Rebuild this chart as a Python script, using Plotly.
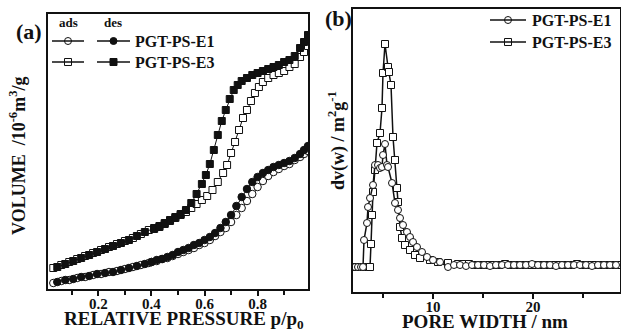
import plotly.graph_objects as go

# ---------------- Panel (a): N2 isotherms (arbitrary volume units) ----------------
P_ADS_LOW = [0.03, 0.06, 0.09, 0.12, 0.15, 0.18, 0.21, 0.24, 0.27, 0.30, 0.33, 0.36, 0.39]
P_DES_LOW = [0.045, 0.075, 0.105, 0.135, 0.165, 0.195, 0.225, 0.255, 0.285, 0.315, 0.345, 0.375]

# PGT-PS-E1
E1_ADS_P = P_ADS_LOW + [0.40, 0.42, 0.44, 0.46, 0.48, 0.50, 0.52, 0.54, 0.56, 0.58, 0.60, 0.62, 0.64,
                        0.66, 0.68, 0.70, 0.72, 0.74, 0.76, 0.78, 0.80, 0.82, 0.84, 0.86, 0.88, 0.90,
                        0.92, 0.94, 0.96, 0.975, 0.99]
E1_ADS_V = [6, 8, 9, 11, 12, 14, 15, 17, 18, 20, 22, 24, 26,
            27, 28, 30, 31, 33, 35, 37, 39, 41, 44, 46, 49, 53, 57, 61, 67, 74, 81, 88, 95, 102,
            108, 113, 117, 120, 123, 125, 129, 132, 135, 138]
E1_DES_P = P_DES_LOW + [0.40, 0.42, 0.44, 0.46, 0.48, 0.50, 0.52, 0.54, 0.56, 0.58, 0.60, 0.62, 0.64,
                        0.66, 0.68, 0.70, 0.72, 0.74, 0.76, 0.78, 0.80, 0.82, 0.84, 0.86, 0.88, 0.90,
                        0.92, 0.94, 0.96, 0.975, 0.99]
E1_DES_V = [7, 9, 10, 12, 13, 15, 16, 17, 19, 21, 23, 25,
            27, 29, 30, 32, 34, 37, 39, 41, 44, 46, 49, 52, 56, 61, 67, 74, 83, 92, 100, 107,
            112, 116, 119, 122, 124, 126, 128, 131, 135, 139, 143]

# PGT-PS-E3
E3_ADS_P = P_ADS_LOW + [0.41, 0.43, 0.45, 0.47, 0.49, 0.51, 0.53, 0.55, 0.57, 0.59, 0.61, 0.63, 0.65,
                        0.67, 0.685, 0.70, 0.715, 0.73, 0.745, 0.76, 0.775, 0.79, 0.805, 0.82, 0.84,
                        0.86, 0.88, 0.90, 0.92, 0.94, 0.96, 0.975, 0.99]
E3_ADS_V = [21, 24, 27, 30, 33, 36, 39, 42, 45, 48, 51, 55, 59,
            60, 62, 65, 68, 71, 74, 77, 81, 85, 89, 93, 99, 107, 116, 124, 136, 147, 159, 171,
            179, 188, 196, 202, 207, 211, 214, 216, 218, 222, 225, 232, 237, 243]
E3_DES_P = P_DES_LOW + [0.41, 0.43, 0.45, 0.47, 0.49, 0.51, 0.53, 0.55, 0.57, 0.59, 0.605, 0.62,
                        0.635, 0.65, 0.665, 0.68, 0.695, 0.71, 0.725, 0.74, 0.76, 0.78, 0.80, 0.82,
                        0.84, 0.86, 0.88, 0.90, 0.92, 0.94, 0.96, 0.975, 0.99]
E3_DES_V = [22, 25, 28, 31, 34, 37, 40, 43, 46, 49, 53, 57,
            61, 63, 66, 69, 72, 75, 79, 86, 95, 105, 114, 125, 139, 154, 168, 179, 190, 199, 204,
            208, 211, 214, 216, 218, 220, 222, 224, 227, 229, 233, 241, 247, 254]

# ---------------- Panel (b): pore size distribution ----------------
E1_W = [2.2, 2.5, 2.8, 3.0, 3.1, 3.4, 3.5, 3.7, 4.0, 4.2, 4.5, 4.7, 4.9, 5.0, 5.2, 5.4, 5.5, 5.9,
        6.2, 6.5, 6.7, 7.0, 7.4, 7.7, 8.0, 8.4, 8.9, 9.4, 10.0, 10.7, 11.5,
        12.1, 12.7, 13.3, 13.9, 14.5, 15.1, 15.7, 16.3, 16.9, 17.5, 18.1, 18.7, 19.3, 19.9,
        20.5, 21.1, 21.7, 22.3, 22.9, 23.5, 24.1, 24.7, 25.3, 25.9, 26.5, 27.1, 27.7, 28.3]
E1_DV = [25, 25, 25, 25, 52, 69, 85, 94, 107, 127, 127, 124, 125, 137, 148, 127, 125, 109,
         89, 82, 74, 67, 60, 55, 50, 45, 40, 35, 32, 30, 25,
         27, 27, 26, 27, 27, 27, 26, 27, 27, 27, 27, 27, 27, 28,
         27, 27, 27, 26, 27, 27, 27, 27, 27, 26, 27, 27, 27, 27]

E3_W = [2.2, 2.5, 2.9, 3.3, 3.7, 3.8, 3.9, 4.0, 4.2, 4.4, 4.7, 4.9, 5.0, 5.2, 5.5, 5.6, 5.8,
        6.0, 6.2, 6.4, 6.5, 6.7, 6.9, 7.2, 7.7, 8.2, 8.7, 9.7, 10.5, 11.5, 12.5,
        13.0, 13.6, 14.2, 14.8, 15.4, 16.0, 16.6, 17.2, 17.8, 18.4, 19.0, 19.6, 20.2, 20.8,
        21.4, 22.0, 22.6, 23.2, 23.8, 24.4, 25.0, 25.6, 26.2, 26.8, 27.4, 28.0, 28.6]
E3_DV = [25, 25, 25, 25, 25, 48, 77, 100, 122, 149, 159, 184, 219, 248, 225, 220, 207,
         155, 132, 104, 90, 65, 54, 47, 42, 37, 34, 32, 30, 29, 28,
         28, 28, 27, 27, 27, 27, 27, 28, 27, 27, 27, 27, 27, 27,
         27, 27, 27, 27, 27, 28, 27, 27, 27, 27, 27, 27, 27]

FONT = "Liberation Serif"
BLACK = "#111111"

fig = go.Figure()

def iso(x, y, symbol, filled, size):
    fig.add_trace(go.Scatter(
        x=x, y=y, mode="lines+markers", xaxis="x", yaxis="y", showlegend=False,
        line=dict(color=BLACK, width=1),
        marker=dict(symbol=symbol, size=size, color=BLACK if filled else "white",
                    line=dict(color=BLACK, width=1))))

iso(E1_ADS_P, E1_ADS_V, "circle", False, 7.5)
iso(E1_DES_P, E1_DES_V, "circle", True, 7.5)
iso(E3_ADS_P, E3_ADS_V, "square", False, 7)
iso(E3_DES_P, E3_DES_V, "square", True, 7)

for w, dv, sym in [(E3_W, E3_DV, "square"), (E1_W, E1_DV, "circle")]:
    fig.add_trace(go.Scatter(
        x=w, y=dv, mode="lines+markers", xaxis="x2", yaxis="y2", showlegend=False,
        line=dict(color=BLACK, width=1.5),
        marker=dict(symbol=sym, size=7, color="white", line=dict(color=BLACK, width=1))))

# ---------------- legend glyphs (overlay axis in pixel units) ----------------
shapes = []
leg_rows = [  # (x0, x1, y, symbol, filled)
    (52, 84, 41, "circle", False), (97, 130, 41, "circle", True),
    (52, 84, 62, "square", False), (97, 130, 62, "square", True),
    (490, 526, 20, "circle", False), (490, 526, 42, "square", False),
]
for x0, x1, yy, sym, filled in leg_rows:
    shapes.append(dict(type="line", xref="x3", yref="y3", x0=x0, x1=x1, y0=yy, y1=yy,
                       line=dict(color=BLACK, width=1.5)))
    fig.add_trace(go.Scatter(
        x=[(x0 + x1) / 2], y=[yy], mode="markers", xaxis="x3", yaxis="y3", showlegend=False,
        marker=dict(symbol=sym, size=7, color=BLACK if filled else "white",
                    line=dict(color=BLACK, width=1))))

def txt(x, y, s, size, anchor="center", angle=0):
    return dict(x=x, y=y, xref="x3", yref="y3", text="<b>" + s + "</b>", showarrow=False,
                xanchor=anchor, yanchor="middle", textangle=angle,
                font=dict(family=FONT, size=size, color=BLACK))

annotations = [
    txt(29, 31, "(a)", 22),
    txt(338, 18, "(b)", 22),
    txt(68, 22, "ads", 13),
    txt(113, 22, "des", 13),
    txt(133, 41, "PGT-PS-E1", 16, "left"),
    txt(133, 62, "PGT-PS-E3", 16, "left"),
    txt(530, 20, "PGT-PS-E1", 16, "left"),
    txt(530, 42, "PGT-PS-E3", 16, "left"),
    txt(17, 156, "VOLUME  /10<sup>-6</sup>m<sup>3</sup>/g", 18, angle=-90),
    txt(337, 141, "dv(w) / m<sup>2</sup>g<sup>-1</sup>", 18, angle=-90),
    txt(184, 320, "RELATIVE PRESSURE p/p<sub>0</sub>", 19),
    txt(485, 321, "PORE WIDTH / nm", 19),
]

W, H = 621, 331
tickfont = dict(family=FONT, size=15, color=BLACK, weight="bold")

def xax(domain, rng, dtick, mdtick, fmt):
    return dict(showline=True, linecolor=BLACK, linewidth=1.5, mirror=True,
                showgrid=False, zeroline=False, domain=domain, range=rng,
                tickmode="linear", tick0=0, dtick=dtick, tickformat=fmt,
                ticks="outside", ticklen=5, tickwidth=1.5, tickcolor=BLACK,
                tickfont=tickfont, ticklabelstandoff=-5,
                minor=dict(dtick=mdtick, tick0=0, ticks="outside", ticklen=4,
                           tickwidth=1.5, tickcolor=BLACK))

def yax(domain, rng, anchor):
    return dict(showline=True, linecolor=BLACK, linewidth=1.5, mirror=True,
                showgrid=False, zeroline=False, domain=domain, range=rng,
                showticklabels=False, ticks="", anchor=anchor)

fig.update_layout(
    width=W, height=H, margin=dict(l=0, r=0, t=0, b=0),
    paper_bgcolor="white", plot_bgcolor="rgba(0,0,0,0)",
    xaxis=dict(**xax([48 / W, 308 / W], [0.01, 0.99], 0.2, 0.1, ".1f"), anchor="y"),
    yaxis=yax([(H - 289) / H, (H - 14) / H], [0, 275], "x"),
    xaxis2=dict(**xax([353 / W, 620 / W], [2.0, 28.7], 10, 5, "d"), anchor="y2"),
    yaxis2=yax([(H - 292) / H, (H - 9) / H], [0, 283], "x2"),
    xaxis3=dict(domain=[0, 1], range=[0, W], visible=False, anchor="y3"),
    yaxis3=dict(domain=[0, 1], range=[H, 0], visible=False, anchor="x3"),
    shapes=shapes, annotations=annotations,
)

fig.write_html("out.html")
